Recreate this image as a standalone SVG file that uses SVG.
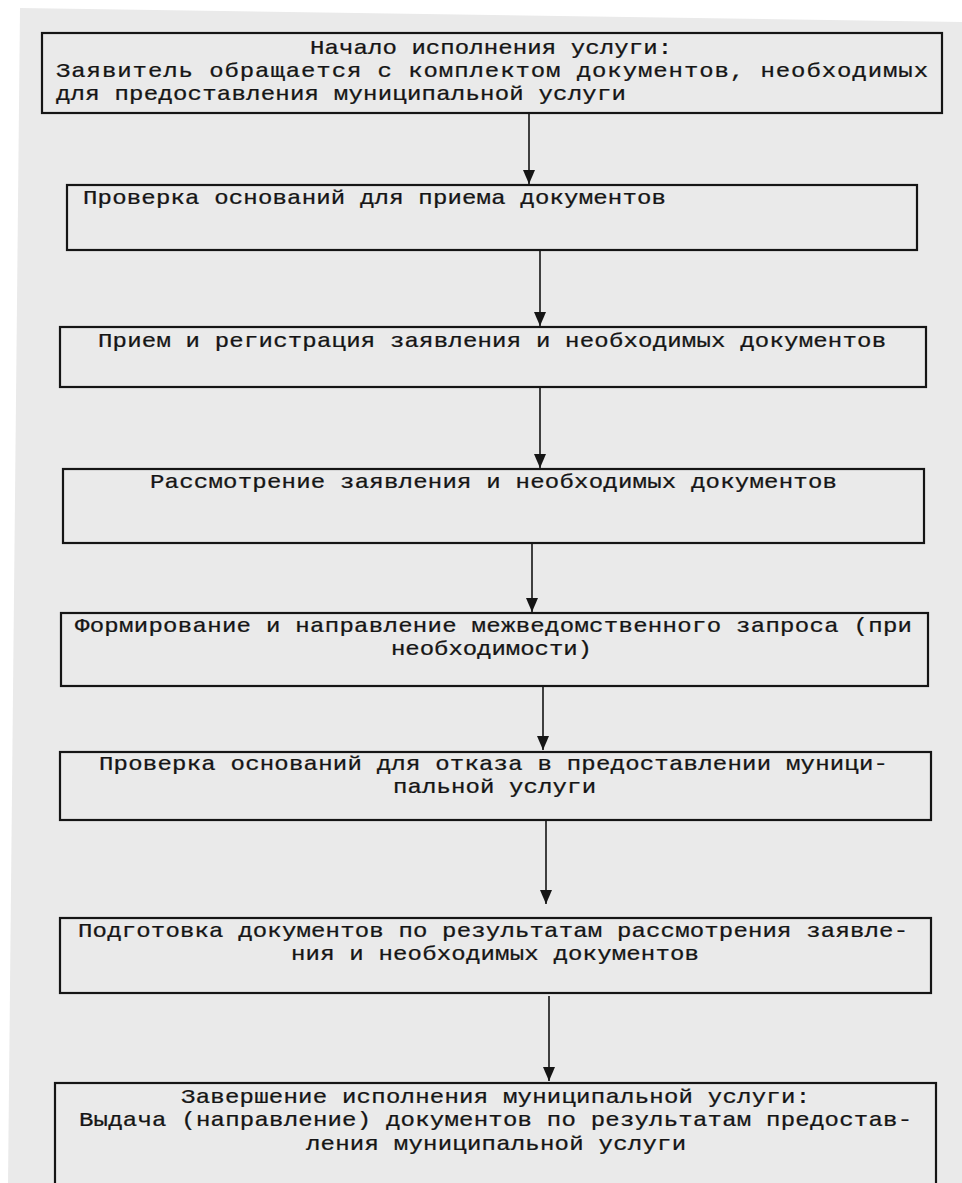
<svg xmlns="http://www.w3.org/2000/svg" width="962" height="1183" viewBox="0 0 962 1183">
<style>
.box{fill:none;stroke:#151515;stroke-width:2.2}
.t{font-family:"Liberation Mono","DejaVu Sans Mono",monospace;font-size:20px;fill:#151515;stroke:#151515;stroke-width:0.25}
.c{stroke:#151515;stroke-width:1.6;fill:none}
</style>
<defs>
<marker id="arr" markerUnits="userSpaceOnUse" markerWidth="16" markerHeight="12" viewBox="0 0 16 12" refX="15" refY="6" orient="auto">
<path d="M1,0 L15,6 L1,12 Z" fill="#151515"/>
</marker>
</defs>
<rect x="0" y="0" width="962" height="1183" fill="#ffffff"/>
<polygon points="20,8 962,22 962,1183 8,1183" fill="#eaeaea"/>

<g id="connectors">
<line class="c" x1="529" y1="113" x2="529" y2="184" marker-end="url(#arr)"/>
<line class="c" x1="540" y1="250" x2="540" y2="326" marker-end="url(#arr)"/>
<line class="c" x1="540" y1="387" x2="540" y2="468" marker-end="url(#arr)"/>
<line class="c" x1="532" y1="543" x2="532" y2="612" marker-end="url(#arr)"/>
<line class="c" x1="543" y1="686" x2="543" y2="750" marker-end="url(#arr)"/>
<line class="c" x1="546" y1="820" x2="546" y2="904" marker-end="url(#arr)"/>
<line class="c" x1="549" y1="996" x2="549" y2="1081" marker-end="url(#arr)"/>
</g>

<g id="n1">
<rect class="box" x="42" y="33" width="900" height="80"/>
<text class="t" transform="translate(310 54) scale(1.2 1)" textLength="301.7" lengthAdjust="spacing">Начало исполнения услуги:</text>
<text class="t" transform="translate(56 77) scale(1.2 1)" textLength="726.7" lengthAdjust="spacing">Заявитель обращается с комплектом документов, необходимых</text>
<text class="t" transform="translate(56 100) scale(1.2 1)" textLength="475" lengthAdjust="spacing">для предоставления муниципальной услуги</text>
</g>

<g id="n2">
<rect class="box" x="67" y="185" width="850" height="65"/>
<text class="t" transform="translate(83 204) scale(1.2 1)" textLength="485.8" lengthAdjust="spacing">Проверка оснований для приема документов</text>
</g>

<g id="n3">
<rect class="box" x="60" y="327" width="866" height="60"/>
<text class="t" transform="translate(98 347) scale(1.2 1)" textLength="656.7" lengthAdjust="spacing">Прием и регистрация заявления и необходимых документов</text>
</g>

<g id="n4">
<rect class="box" x="63" y="469" width="861" height="74"/>
<text class="t" transform="translate(150 488) scale(1.2 1)" textLength="572.5" lengthAdjust="spacing">Рассмотрение заявления и необходимых документов</text>
</g>

<g id="n5">
<rect class="box" x="61" y="613" width="867" height="73"/>
<text class="t" transform="translate(75 632) scale(1.2 1)" textLength="697.5" lengthAdjust="spacing">Формирование и направление межведомственного запроса (при</text>
<text class="t" transform="translate(391 655) scale(1.2 1)" textLength="167.5" lengthAdjust="spacing">необходимости)</text>
</g>

<g id="n6">
<rect class="box" x="60" y="752" width="871" height="68"/>
<text class="t" transform="translate(99 770) scale(1.2 1)" textLength="657.5" lengthAdjust="spacing">Проверка оснований для отказа в предоставлении муници-</text>
<text class="t" transform="translate(393 793) scale(1.2 1)" textLength="169.2" lengthAdjust="spacing">пальной услуги</text>
</g>

<g id="n7">
<rect class="box" x="60" y="918" width="871" height="75"/>
<text class="t" transform="translate(78 937) scale(1.2 1)" textLength="691.7" lengthAdjust="spacing">Подготовка документов по результатам рассмотрения заявле-</text>
<text class="t" transform="translate(291 960) scale(1.2 1)" textLength="340" lengthAdjust="spacing">ния и необходимых документов</text>
</g>

<g id="n8">
<rect class="box" x="55" y="1083" width="881" height="130"/>
<text class="t" transform="translate(181 1103) scale(1.2 1)" textLength="524.2" lengthAdjust="spacing">Завершение исполнения муниципальной услуги:</text>
<text class="t" transform="translate(79 1126) scale(1.2 1)" textLength="694.2" lengthAdjust="spacing">Выдача (направление) документов по результатам предостав-</text>
<text class="t" transform="translate(306 1150) scale(1.2 1)" textLength="316.7" lengthAdjust="spacing">ления муниципальной услуги</text>
</g>
</svg>
